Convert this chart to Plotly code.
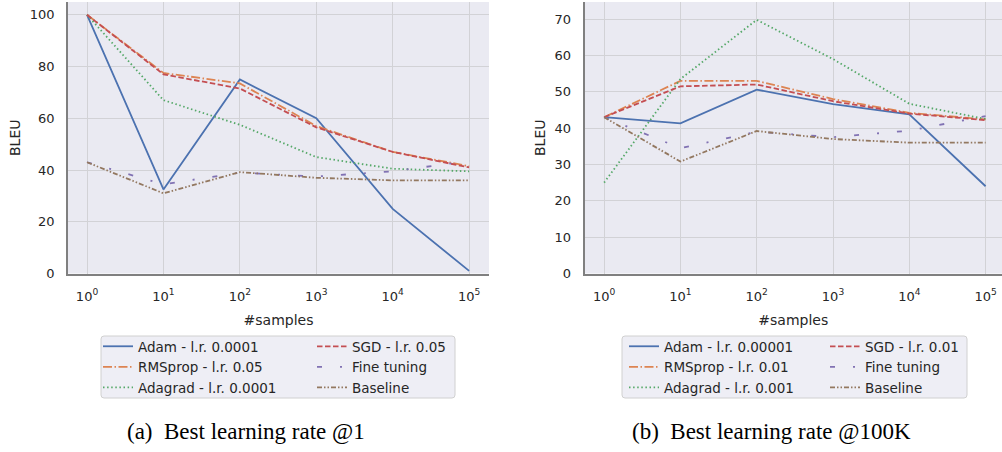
import plotly.graph_objects as go

# ---------------- data ----------------
samples = [1, 10, 100, 1000, 10000, 100000]
tick_vals = [1, 10, 100, 1000, 10000, 100000]
tick_text = ["10<sup>0</sup>", "10<sup>1</sup>", "10<sup>2</sup>", "10<sup>3</sup>", "10<sup>4</sup>", "10<sup>5</sup>"]

# (a) best learning rate @1
a_names = ["Adam - l.r. 0.0001", "RMSprop - l.r. 0.05", "Adagrad - l.r. 0.0001",
           "SGD - l.r. 0.05", "Fine tuning", "Baseline"]
a_adam = [100, 32.5, 75, 60, 25, 1]
a_rmsprop = [100, 77.5, 73.5, 57, 47, 41.5]
a_adagrad = [100, 67, 57.5, 45, 40.5, 39.5]
a_sgd = [100, 77, 71.5, 56.5, 47, 41]
a_finetune = [43, 34.5, 39, 37.5, 39.5, 43.5]
a_baseline = [43, 31, 39.2, 37, 36, 36]

# (b) best learning rate @100K
b_names = ["Adam - l.r. 0.00001", "RMSprop - l.r. 0.01", "Adagrad - l.r. 0.001",
           "SGD - l.r. 0.01", "Fine tuning", "Baseline"]
b_adam = [43, 41.3, 50.6, 46.6, 43.8, 24]
b_rmsprop = [43, 53, 53, 48, 44.2, 42.4]
b_adagrad = [25, 53.5, 69.8, 59, 46.7, 42.5]
b_sgd = [43, 51.5, 52, 47.4, 44, 42.2]
b_finetune = [43, 34.5, 39, 37.5, 39.3, 43.3]
b_baseline = [43, 30.8, 39.2, 37, 36, 36]

captions = ["(a)  Best learning rate @1", "(b)  Best learning rate @100K"]

# ---------------- styles ----------------
colors = ["#4C72B0", "#DD8452", "#55A868", "#C44E52", "#8172B3", "#937860"]
dashes = ["solid", "9px,2.5px,1.5px,2.5px", "1.5px,2.6px", "5.5px,2.5px",
          "5px,18px,2px,18px", "5px,2px,1.5px,2px,1.5px,2px"]
TXT = "#262626"
W, H = 1002, 452

fig = go.Figure()

def add_panel(series, names, xa, ya, legs):
    for i, (ys, nm) in enumerate(zip(series, names)):
        fig.add_trace(go.Scatter(
            x=samples, y=ys, name=nm, mode="lines",
            line=dict(color=colors[i], width=1.8, dash=dashes[i]),
            xaxis=xa, yaxis=ya,
            legend=legs[0] if i < 3 else legs[1],
        ))

add_panel([a_adam, a_rmsprop, a_adagrad, a_sgd, a_finetune, a_baseline], a_names,
          "x", "y", ["legend", "legend2"])
add_panel([b_adam, b_rmsprop, b_adagrad, b_sgd, b_finetune, b_baseline], b_names,
          "x2", "y2", ["legend3", "legend4"])

ydom = [1 - 273.5 / H, 1 - 2 / H]
axis_common = dict(
    showgrid=True, gridcolor="#d2d2d6", gridwidth=1,
    showline=True, linecolor="#808080", linewidth=1.5,
    zeroline=False, ticks="outside", tickcolor="rgba(0,0,0,0)",
    tickfont=dict(family="DejaVu Sans", size=13, color=TXT),
    automargin=False,
)
xcommon = dict(axis_common, type="log", tickvals=tick_vals, ticktext=tick_text, ticklen=10,
               title=dict(text="#samples", font=dict(family="DejaVu Sans", size=14, color=TXT), standoff=12))
ycommon = dict(axis_common, ticklen=9,
               title=dict(text="BLEU", font=dict(family="DejaVu Sans", size=14, color=TXT), standoff=6))

fig.update_layout(
    width=W, height=H,
    margin=dict(l=0, r=0, t=0, b=0, autoexpand=False),
    paper_bgcolor="white", plot_bgcolor="#EAEAF2",
    xaxis=dict(xcommon, domain=[68 / W, 489 / W], range=[-0.249, 5.26], anchor="y"),
    yaxis=dict(ycommon, domain=ydom, range=[0, 104.95], dtick=20, anchor="x"),
    xaxis2=dict(xcommon, domain=[584.5 / W, 1.0], range=[-0.257, 5.215], anchor="y2"),
    yaxis2=dict(ycommon, domain=ydom, range=[0, 74.7], dtick=10, anchor="x2"),
)

leg_common = dict(bgcolor="rgba(0,0,0,0)", borderwidth=0, xanchor="left", yanchor="top",
                  font=dict(family="DejaVu Sans", size=13.5, color=TXT),
                  itemwidth=30, tracegroupgap=0, itemclick=False)
ly = 1 - 331 / H
fig.update_layout(
    legend=dict(leg_common, x=98 / W, y=ly),
    legend2=dict(leg_common, x=312 / W, y=ly),
    legend3=dict(leg_common, x=624 / W, y=ly),
    legend4=dict(leg_common, x=825 / W, y=ly),
)

def rounded_box(x0, y0, x1, y1, r=3):
    # pixel coords (top-left origin) -> paper
    def px(x): return x / W
    def py(y): return 1 - y / H
    rx, ry = r / W, r / H
    X0, X1, Y0, Y1 = px(x0), px(x1), py(y1), py(y0)
    return (f"M{X0+rx},{Y1} L{X1-rx},{Y1} Q{X1},{Y1} {X1},{Y1-ry} "
            f"L{X1},{Y0+ry} Q{X1},{Y0} {X1-rx},{Y0} L{X0+rx},{Y0} "
            f"Q{X0},{Y0} {X0},{Y0+ry} L{X0},{Y1-ry} Q{X0},{Y1} {X0+rx},{Y1} Z")

for box in [(101, 336, 455, 398), (622, 336, 967, 398)]:
    fig.add_shape(type="path", path=rounded_box(*box), xref="paper", yref="paper",
                  fillcolor="rgba(234,234,242,0.8)", line=dict(color="#d0d0d0", width=1),
                  layer="below")

for cap, cx in zip(captions, [246, 771]):
    fig.add_annotation(text=cap, x=cx / W, y=1 - 431 / H, xref="paper", yref="paper",
                       showarrow=False, xanchor="center", yanchor="middle",
                       font=dict(family="Liberation Serif", size=23, color="black"))

fig.write_html("out.html", config={"displayModeBar": False},
               post_script="document.body.style.margin='0';document.body.style.overflow='hidden';")
